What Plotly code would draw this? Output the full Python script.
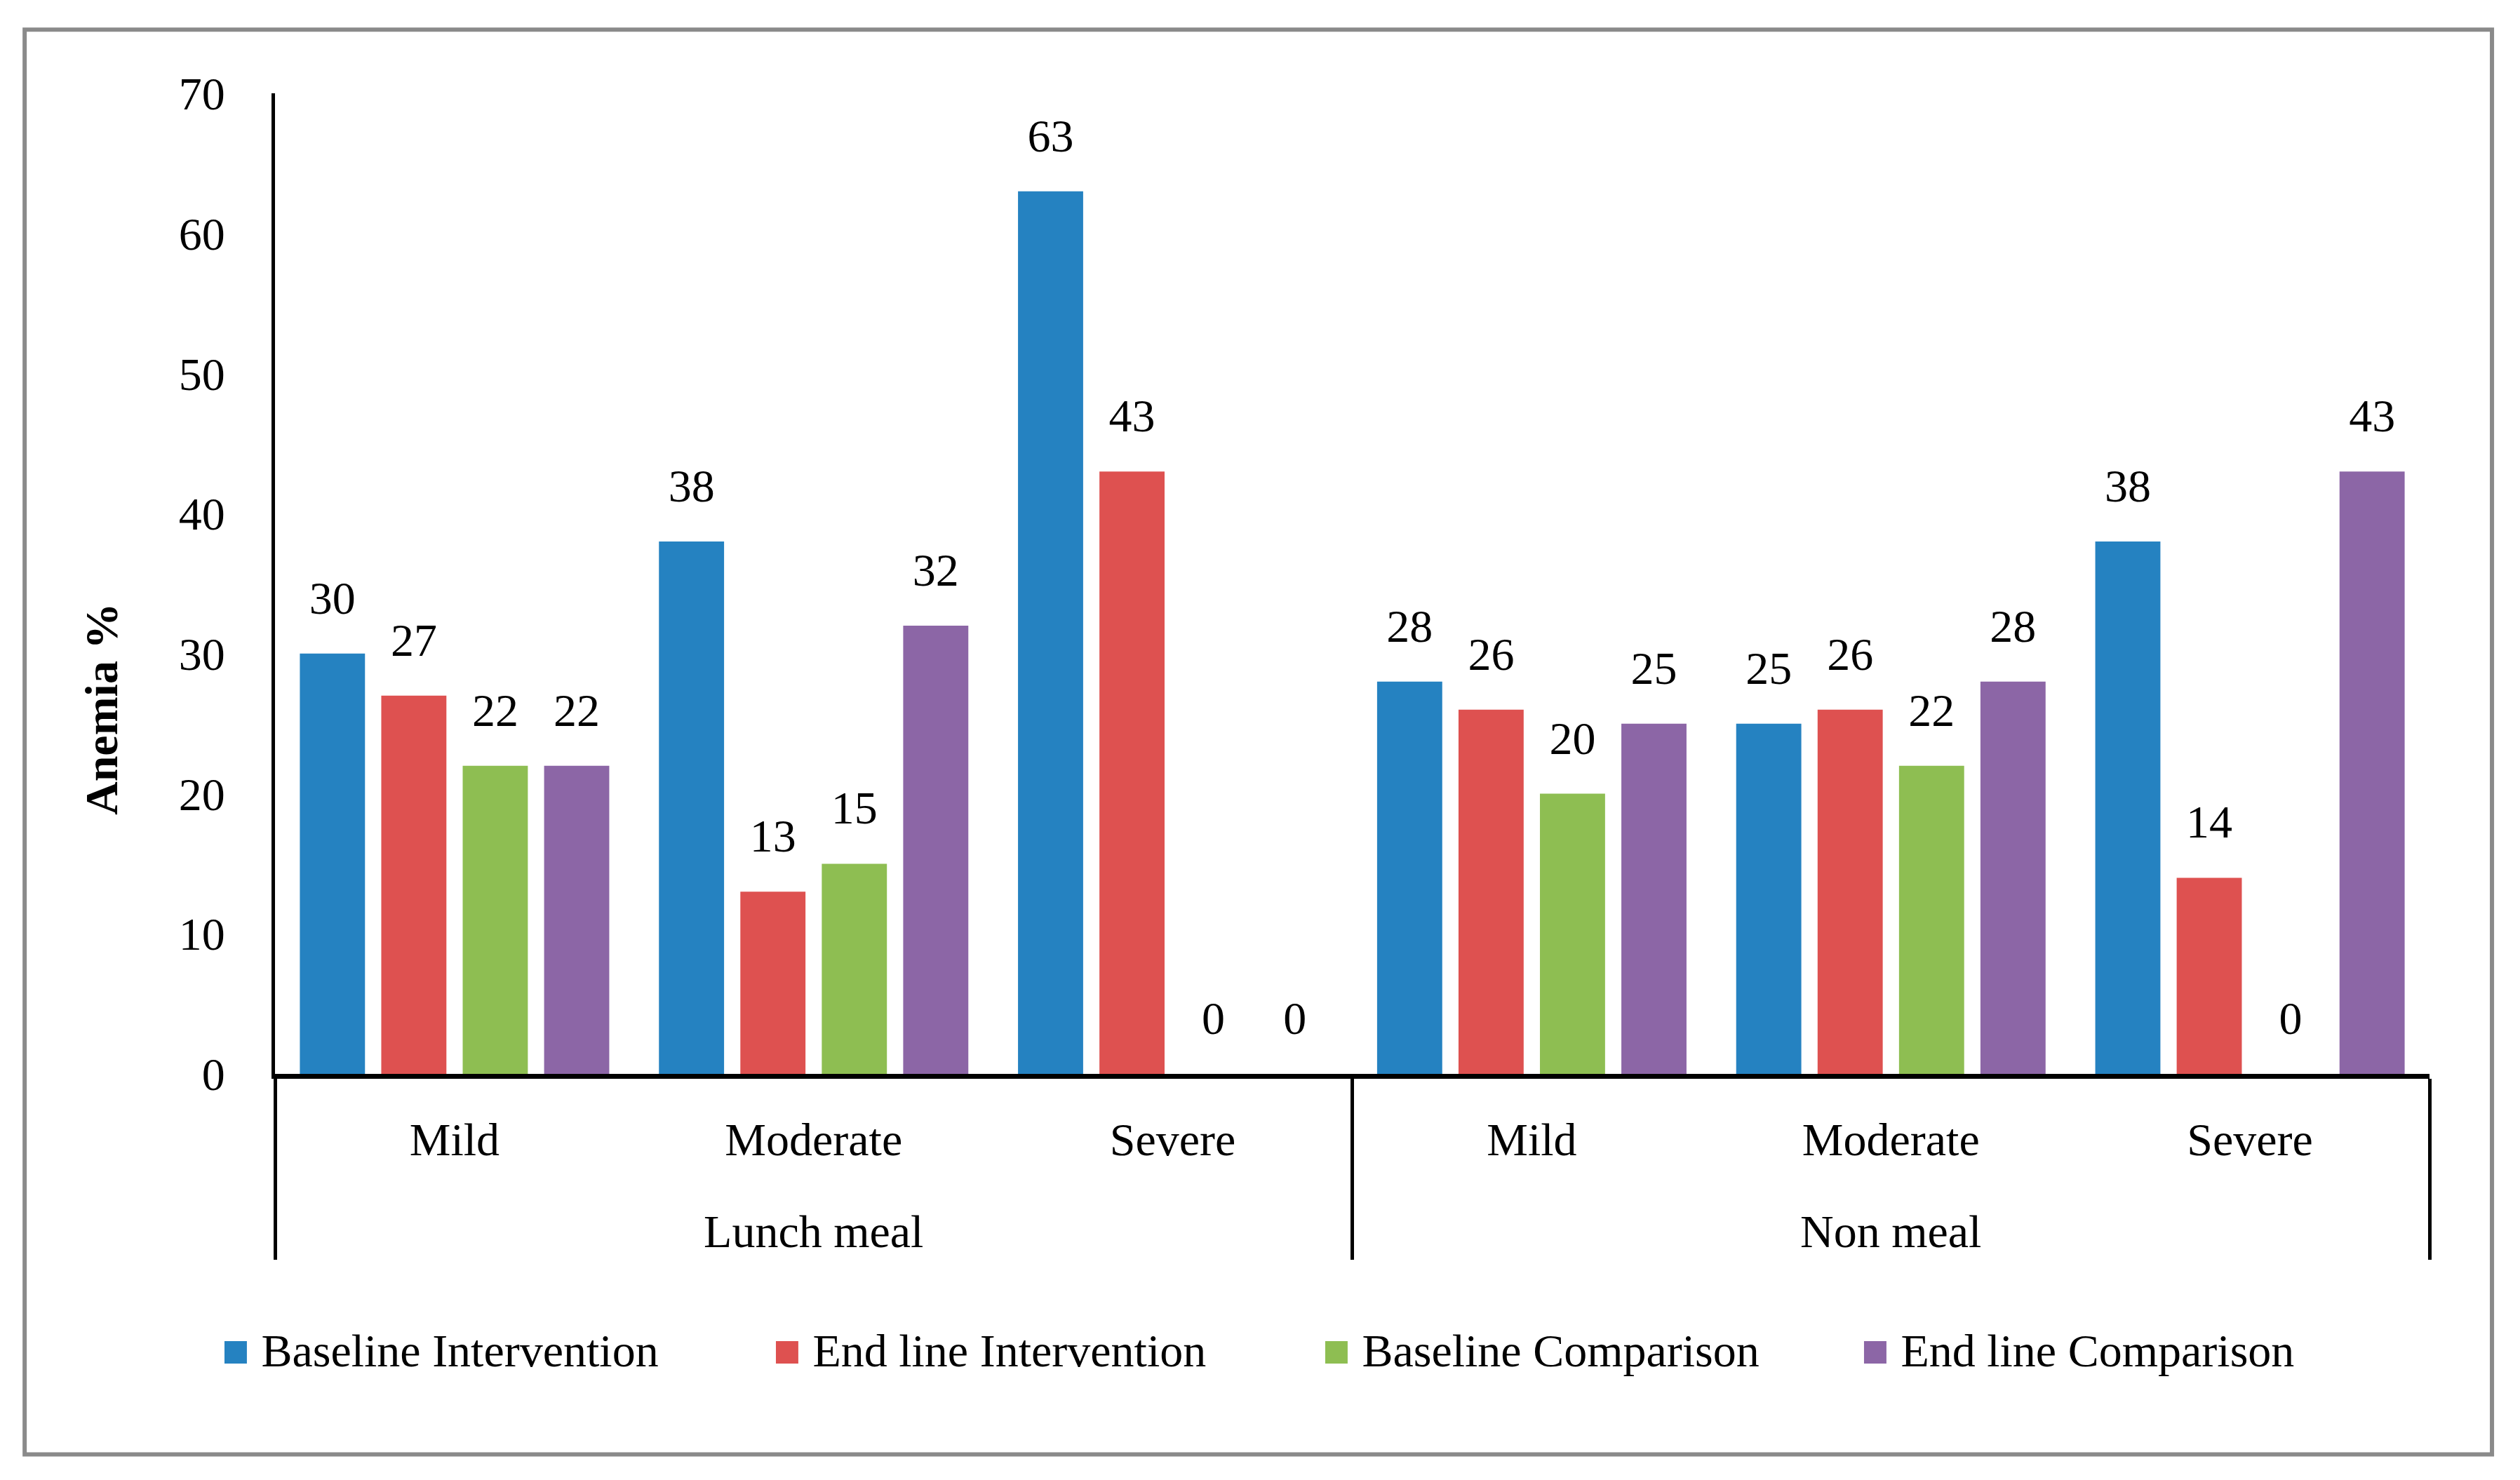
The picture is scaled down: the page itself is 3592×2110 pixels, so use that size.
import plotly.graph_objects as go

# categorias (eje multicategoria)
groups = ["Lunch meal", "Lunch meal", "Lunch meal", "Non meal", "Non meal", "Non meal"]
severity = ["Mild", "Moderate", "Severe", "Mild", "Moderate", "Severe"]

# series (% de anemia)
series_names = ["Baseline Intervention", "End line Intervention",
                "Baseline Comparison", "End line Comparison"]
baseline_int = [30, 38, 63, 28, 25, 38]
endline_int = [27, 13, 43, 26, 26, 14]
baseline_comp = [22, 15, 0, 20, 22, 0]
endline_comp = [22, 32, 0, 25, 28, 43]

y_ticks = [0, 10, 20, 30, 40, 50, 60, 70]

colors = ["#2582c1", "#de5150", "#8ebe52", "#8c66a6"]
FONT = "Liberation Serif"
FS = 66
LABEL_GAP = 2.0  # separacion etiqueta-barra (en unidades del eje)

# el grupo va una linea mas abajo que la severidad
group_lbl = ["<br>" + g for g in groups]

fig = go.Figure()
all_series = [baseline_int, endline_int, baseline_comp, endline_comp]
for i, (name, vals) in enumerate(zip(series_names, all_series)):
    fig.add_trace(go.Bar(
        x=[group_lbl, severity], y=vals, name=name,
        marker=dict(color=colors[i], line=dict(width=0)),
        offsetgroup=str(i),
    ))
    # barra transparente encima para dejar aire sobre la etiqueta
    fig.add_trace(go.Bar(
        x=[group_lbl, severity], y=[LABEL_GAP] * len(vals), base=vals,
        marker=dict(color="rgba(0,0,0,0)", line=dict(width=0)),
        text=[str(v) for v in vals], textposition="outside",
        textfont=dict(family=FONT, size=FS, color="black"),
        constraintext="none", cliponaxis=False,
        offsetgroup=str(i), showlegend=False, hoverinfo="skip",
    ))

# margenes compensando los 8px del body
fig.update_layout(
    width=3592, height=2110,
    margin=dict(l=384, r=137, t=125, b=587),
    paper_bgcolor="white", plot_bgcolor="white",
    barmode="group", bargap=0.093, bargroupgap=0.2,
    font=dict(family=FONT, size=FS, color="black"),
    showlegend=False,
)

fig.update_yaxes(
    range=[0, 70], tickvals=y_ticks, ticktext=[str(t) for t in y_ticks],
    showgrid=False, zeroline=False,
    showline=True, linecolor="black", linewidth=5,
    ticks="", ticklabelstandoff=53,
    tickfont=dict(family=FONT, size=FS, color="black"),
)
fig.update_xaxes(
    showgrid=False, zeroline=False,
    showline=True, linecolor="black", linewidth=7,
    ticks="", ticklabelstandoff=30,
    showdividers=True, dividercolor="black", dividerwidth=5,
    tickfont=dict(family=FONT, size=FS, color="black"),
)

# titulo del eje y (desplazado hacia abajo como en el original)
fig.add_annotation(
    text="<b>Anemia %</b>", xref="paper", yref="paper",
    x=-0.0804, y=0.372, xanchor="center", yanchor="middle",
    textangle=-90, showarrow=False,
    font=dict(family=FONT, size=FS, color="black"),
)

# leyenda con cuadrados grandes, como en el original
legend_x = [-0.0254, 0.2305, 0.4855, 0.7356]
for name, col, lx in zip(series_names, colors, legend_x):
    fig.add_annotation(
        text=f"<span style='color:{col}'>■</span> {name}",
        xref="paper", yref="paper", x=lx, y=-0.282,
        xanchor="left", yanchor="middle", showarrow=False,
        font=dict(family=FONT, size=FS, color="black"),
    )

# marco gris exterior
fig.add_shape(
    type="rect", xref="paper", yref="paper",
    x0=-0.1162, x1=1.029, y0=-0.388, y1=1.065,
    line=dict(color="#8a8a8a", width=6), fillcolor="rgba(0,0,0,0)",
)

fig.write_html("out.html")
